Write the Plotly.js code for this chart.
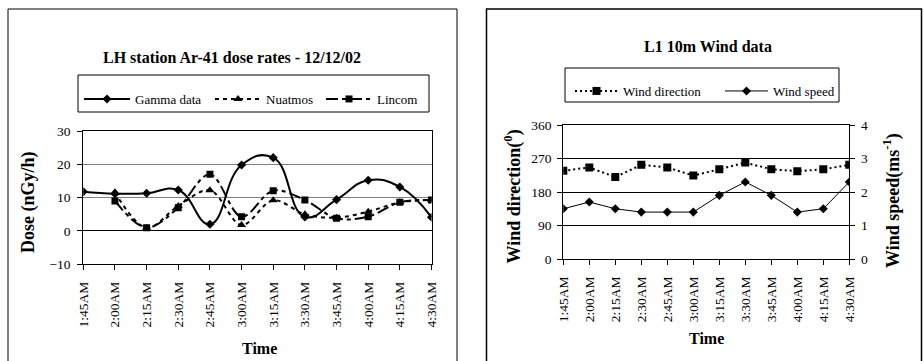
<!DOCTYPE html>
<html>
<head>
<meta charset="utf-8">
<script src="https://cdn.plot.ly/plotly-3.0.1.min.js"></script>
<style>html,body{margin:0;padding:0;background:#fff;}#chart{width:924px;height:361px;}</style>
</head>
<body>
<div id="chart"></div>
<script>
// ---- data ----
var times = ['1:45AM','2:00AM','2:15AM','2:30AM','2:45AM','3:00AM','3:15AM','3:30AM','3:45AM','4:00AM','4:15AM','4:30AM'];
var gammaData = [11.8, 11.2, 11.3, 12.3, 2.0, 19.8, 22.0, 4.2, 9.4, 15.2, 13.2, 4.1];
var nuatmos   = [null, 11.6, 1.0, 7.5, 12.2, 1.8, 9.2, 5.0, 4.0, 5.8, 8.6, 9.3];
var lincom    = [null, 9.0, 1.0, 7.0, 17.0, 4.3, 12.1, 9.3, 3.8, 4.3, 8.6, 9.3];
var windDirection = [237, 246, 220, 253, 246, 224, 241, 259, 241, 236, 241, 253];
var windSpeed     = [1.5, 1.7, 1.5, 1.4, 1.4, 1.4, 1.9, 2.3, 1.9, 1.4, 1.5, 2.3];
var doseTicks = [-10, 0, 10, 20, 30];
var dirTicks = [0, 90, 180, 270, 360];
var speedTicks = [0, 1, 2, 3, 4];

// ---- layout helpers (pixel -> paper) ----
var W = 924, H = 361;
function px(x){ return x / W; }
function py(y){ return 1 - y / H; }

var FONT = 'Liberation Serif';

var traces = [
  {x: times, y: gammaData, name: 'Gamma data', xaxis: 'x', yaxis: 'y', mode: 'lines+markers',
   line: {color: 'black', width: 2, shape: 'spline', smoothing: 1.3},
   marker: {symbol: 'diamond', size: 7, color: 'black'}, legend: 'legend', legendwidth: 70},
  {x: times, y: nuatmos, name: 'Nuatmos', xaxis: 'x', yaxis: 'y', mode: 'lines+markers',
   line: {color: 'black', width: 2, shape: 'spline', smoothing: 1, dash: '4px,4px'},
   marker: {symbol: 'triangle-up', size: 8, color: 'black'}, legend: 'legend', legendwidth: 50},
  {x: times, y: lincom, name: 'Lincom', xaxis: 'x', yaxis: 'y', mode: 'lines+markers',
   line: {color: 'black', width: 2, shape: 'spline', smoothing: 1, dash: '12px,4px,4px,4px'},
   marker: {symbol: 'square', size: 7, color: 'black'}, legend: 'legend', legendwidth: 50},
  {x: times, y: windDirection, name: 'Wind direction', xaxis: 'x2', yaxis: 'y2', mode: 'lines+markers',
   line: {color: 'black', width: 2, dash: '2px,3px'},
   marker: {symbol: 'square', size: 8, color: 'black'}, legend: 'legend2', legendwidth: 92},
  {x: times, y: windSpeed, name: 'Wind speed', xaxis: 'x2', yaxis: 'y3', mode: 'lines+markers',
   line: {color: 'black', width: 1},
   marker: {symbol: 'diamond', size: 7, color: 'black'}, legend: 'legend2', legendwidth: 70}
];

var tickFont = {family: FONT, size: 13.5, color: 'black'};
function xAxis(domain, anchor){
  return {domain: domain, anchor: anchor, type: 'category', categoryorder: 'array', categoryarray: times,
    range: [0, times.length - 1], showline: true, linecolor: 'black', linewidth: 1, mirror: true,
    ticks: 'outside', ticklen: 5, tickcolor: 'black', tickangle: -90, showgrid: false, zeroline: false,
    tickfont: tickFont, ticklabelstandoff: 6, fixedrange: true};
}

var layout = {
  width: W, height: H, margin: {l: 0, r: 0, t: 0, b: 0},
  paper_bgcolor: 'white', plot_bgcolor: 'white',
  font: {family: FONT, size: 13, color: 'black'},
  showlegend: true,
  xaxis: xAxis([px(83.3), px(431.5)], 'y'),
  yaxis: {domain: [py(264.3), py(131)], anchor: 'x', range: [-10, 30], tickvals: doseTicks,
    showline: true, linecolor: 'black', linewidth: 1, mirror: true, ticks: 'outside', ticklen: 5, tickcolor: 'black',
    showgrid: true, gridcolor: '#808080', gridwidth: 1, zeroline: true, zerolinecolor: 'black', zerolinewidth: 1,
    tickfont: tickFont, ticklabelstandoff: 4},
  xaxis2: xAxis([px(563.3), px(849.3)], 'y2'),
  yaxis2: {domain: [py(259), py(125)], anchor: 'x2', range: [0, 360], tickvals: dirTicks,
    showline: true, linecolor: 'black', linewidth: 1, mirror: true, ticks: 'outside', ticklen: 5, tickcolor: 'black',
    showgrid: true, gridcolor: 'black', gridwidth: 1, zeroline: false, tickfont: tickFont, ticklabelstandoff: 3},
  yaxis3: {overlaying: 'y2', anchor: 'x2', side: 'right', range: [0, 4], tickvals: speedTicks,
    showline: true, linecolor: 'black', linewidth: 1, ticks: 'outside', ticklen: 5, tickcolor: 'black',
    showgrid: false, zeroline: false, tickfont: tickFont, ticklabelstandoff: 3},
  legend: {x: px(79), y: py(84), xanchor: 'left', yanchor: 'top', orientation: 'h', bgcolor: 'rgba(0,0,0,0)',
    borderwidth: 0, itemwidth: 46, font: {family: FONT, size: 13, color: 'black'}, traceorder: 'normal'},
  legend2: {x: px(570), y: py(76), xanchor: 'left', yanchor: 'top', orientation: 'h', bgcolor: 'rgba(0,0,0,0)',
    borderwidth: 0, itemwidth: 43, font: {family: FONT, size: 13, color: 'black'}, traceorder: 'normal'},
  shapes: [
    {type: 'rect', xref: 'paper', yref: 'paper', x0: px(8), x1: px(457), y0: py(380), y1: py(9), line: {color: 'black', width: 1}},
    {type: 'rect', xref: 'paper', yref: 'paper', x0: px(486.5), x1: px(921.5), y0: py(380), y1: py(9), line: {color: 'black', width: 1.5}},
    {type: 'rect', xref: 'paper', yref: 'paper', x0: px(78), x1: px(429), y0: py(112), y1: py(75), line: {color: 'black', width: 1}},
    {type: 'rect', xref: 'paper', yref: 'paper', x0: px(565), x1: px(839), y0: py(102), y1: py(68), line: {color: 'black', width: 1}}
  ],
  annotations: [
    {xref: 'paper', yref: 'paper', x: px(232), y: py(57.5), xanchor: 'center', yanchor: 'middle', showarrow: false,
     text: '<b>LH station Ar-41 dose rates - 12/12/02</b>', font: {family: FONT, size: 16, color: 'black'}},
    {xref: 'paper', yref: 'paper', x: px(708), y: py(47), xanchor: 'center', yanchor: 'middle', showarrow: false,
     text: '<b>L1 10m Wind data</b>', font: {family: FONT, size: 16, color: 'black'}},
    {xref: 'paper', yref: 'paper', x: px(28), y: py(202), xanchor: 'center', yanchor: 'middle', showarrow: false, textangle: -90,
     text: '<b>Dose (nGy/h)</b>', font: {family: FONT, size: 18, color: 'black'}},
    {xref: 'paper', yref: 'paper', x: px(259), y: py(348), xanchor: 'center', yanchor: 'middle', showarrow: false,
     text: '<b>Time</b>', font: {family: FONT, size: 16, color: 'black'}},
    {xref: 'paper', yref: 'paper', x: px(513), y: py(196.5), xanchor: 'center', yanchor: 'middle', showarrow: false, textangle: -90,
     text: '<b>Wind direction(<sup>0</sup>)</b>', font: {family: FONT, size: 18, color: 'black'}},
    {xref: 'paper', yref: 'paper', x: px(892), y: py(201), xanchor: 'center', yanchor: 'middle', showarrow: false, textangle: -90,
     text: '<b>Wind speed(ms<sup>-1</sup>)</b>', font: {family: FONT, size: 18, color: 'black'}},
    {xref: 'paper', yref: 'paper', x: px(706), y: py(338), xanchor: 'center', yanchor: 'middle', showarrow: false,
     text: '<b>Time</b>', font: {family: FONT, size: 16, color: 'black'}}
  ]
};

Plotly.newPlot('chart', traces, layout, {displayModeBar: false, staticPlot: true});
</script>
</body>
</html>
